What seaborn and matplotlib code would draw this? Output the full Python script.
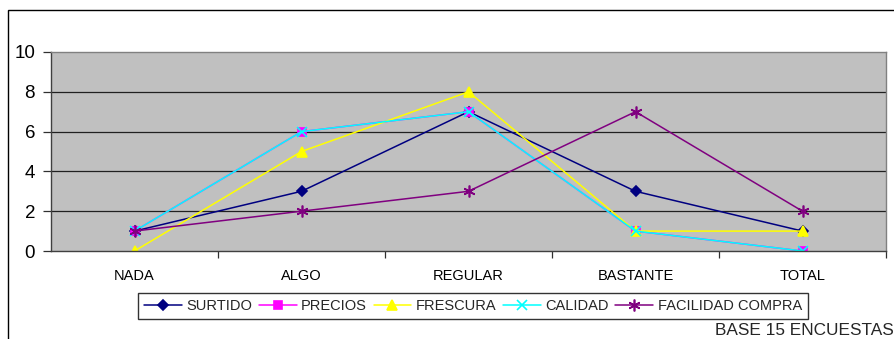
import matplotlib
matplotlib.use("Agg")
import matplotlib.pyplot as plt
from matplotlib.patches import Rectangle
from matplotlib.lines import Line2D
import seaborn as sns
import pandas as pd

# Survey answers per category (15 respondents)
categories = ["NADA", "ALGO", "REGULAR", "BASTANTE", "TOTAL"]
surtido = [1, 3, 7, 3, 1]
precios = [1, 6, 7, 1, 0]
frescura = [0, 5, 8, 1, 1]
calidad = [1, 6, 7, 1, 0]
facilidad_compra = [1, 2, 3, 7, 2]

series_names = ["SURTIDO", "PRECIOS", "FRESCURA", "CALIDAD", "FACILIDAD COMPRA"]
series_values = [surtido, precios, frescura, calidad, facilidad_compra]
colors = ["#000080", "#FF00FF", "#FFFF00", "#00FFFF", "#800080"]
markers = ["D", "s", "^", "x", (6, 2, 0)]
marker_sizes = [5.5, 5.5, 7.5, 6.5, 8.5]

rows = []
for name, vals in zip(series_names, series_values):
    for i, (cat, v) in enumerate(zip(categories, vals)):
        rows.append({"serie": name, "pos": i, "valor": v})
df = pd.DataFrame(rows)

sns.set_theme(style="white")
plt.rcParams["font.family"] = ["Liberation Sans", "DejaVu Sans"]

fig = plt.figure(figsize=(8.95, 3.39), dpi=100)
ax = fig.add_axes([51 / 895, 88 / 339, 835 / 895, 199 / 339])

for name, col, mk, ms in zip(series_names, colors, markers, marker_sizes):
    sub = df[df["serie"] == name]
    sns.lineplot(data=sub, x="pos", y="valor", ax=ax, color=col, marker=mk,
                 markersize=ms, markeredgecolor=col, markerfacecolor=col,
                 markeredgewidth=1.2, linewidth=1.1, legend=False)

ax.set_facecolor("#C0C0C0")
ax.set_xlim(-0.5, 4.5)
ax.set_ylim(0, 10)
ax.set_xlabel("")
ax.set_ylabel("")

# Gridlines at the inner major steps
for yv in [2, 4, 6, 8]:
    ax.axhline(yv, color="#202020", linewidth=0.9, zorder=1)

ax.set_yticks([0, 2, 4, 6, 8, 10])
ax.set_yticklabels(["0", "2", "4", "6", "8", "10"], fontsize=13.5)
ax.tick_params(axis="y", which="major", left=True, length=5.5, width=0.9,
               color="#303030", pad=6, labelcolor="black")

ax.set_xticks(range(len(categories)))
ax.set_xticklabels(categories, fontsize=10.5)
ax.set_xticks([0.5, 1.5, 2.5, 3.5, 4.5], minor=True)
ax.tick_params(axis="x", which="major", length=0, pad=13, labelcolor="black")
ax.tick_params(axis="x", which="minor", bottom=True, length=5, width=0.9,
               color="#303030")

for side in ["top", "right"]:
    ax.spines[side].set_color("#808080")
    ax.spines[side].set_linewidth(1.0)
for side in ["left", "bottom"]:
    ax.spines[side].set_color("#404040")
    ax.spines[side].set_linewidth(1.0)

handles = [Line2D([0], [0], color=c, marker=m, markersize=s,
                  markerfacecolor=c, markeredgecolor=c, markeredgewidth=1.2,
                  linewidth=1.1)
           for c, m, s in zip(colors, markers, marker_sizes)]
leg = fig.legend(handles, series_names, ncol=5,
                 bbox_to_anchor=(131 / 895, 17 / 339, 684 / 895, 32 / 339),
                 loc="center", mode="expand", fontsize=10.5, frameon=True,
                 fancybox=False, edgecolor="black", handlelength=2.6,
                 handletextpad=0.3, columnspacing=0.6, borderpad=0.4)
leg.get_frame().set_linewidth(1.0)

fig.text(894 / 895, 4 / 339, "BASE 15 ENCUESTAS", ha="right", va="baseline",
         fontsize=12.4)

# Outer chart frame
fig.patches.append(Rectangle((8 / 895, -0.1), 1.2, 0.1 + 329 / 339,
                             transform=fig.transFigure, fill=False,
                             edgecolor="black", linewidth=1.0))

fig.savefig("out.png", dpi=100)
